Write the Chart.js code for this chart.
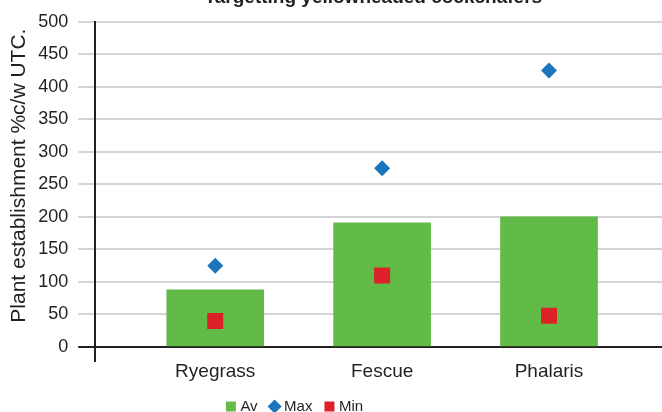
<!DOCTYPE html>
<html>
<head>
<meta charset="utf-8">
<script src="https://cdn.jsdelivr.net/npm/chart.js@4/dist/chart.umd.min.js"></script>
<style>
  html, body { margin: 0; padding: 0; background: #fff; overflow: hidden; }
  #wrap { position: absolute; left: -70px; top: -14px; width: 732px; height: 438px; }
</style>
</head>
<body>
<div id="wrap"><canvas id="chart"></canvas></div>
<script>
// values
const categories = ['Ryegrass', 'Fescue', 'Phalaris'];
const avValues = [88, 191, 200];
const maxValues = [125, 275, 425];
const minValues = [40, 110, 48];
const yTicks = [0, 50, 100, 150, 200, 250, 300, 350, 400, 450, 500];

const axisColor = '#231f20';
const gridColor = '#d4d4d4';

// x runs as a number line so the categories can sit where the original put them
const xMin = 0.281;
const xMax = 3.677;

function points(values) {
  return values.map((v, i) => ({ x: i + 1, y: v }));
}

Chart.defaults.font.family = '"Liberation Sans", Arial, sans-serif';
Chart.defaults.color = axisColor;

new Chart(document.getElementById('chart'), {
  type: 'bar',
  data: {
    datasets: [
      {
        label: 'Av',
        data: points(avValues),
        backgroundColor: '#62bb46',
        borderWidth: 0,
        barThickness: 97,
        pointStyle: 'rect',
        order: 1
      },
      {
        type: 'scatter',
        label: 'Max',
        data: points(maxValues),
        backgroundColor: '#1a75bc',
        borderColor: '#1a75bc',
        borderWidth: 0,
        pointStyle: 'rectRot',
        pointRadius: 8,
        order: 0
      },
      {
        type: 'scatter',
        label: 'Min',
        data: points(minValues),
        backgroundColor: '#dc2128',
        borderColor: '#dc2128',
        borderWidth: 0,
        pointStyle: 'rect',
        pointRadius: 11.3,
        order: 0
      }
    ]
  },
  options: {
    responsive: true,
    maintainAspectRatio: false,
    animation: false,
    layout: { padding: 0, autoPadding: false },
    plugins: {
      title: {
        display: true,
        text: 'Targetting yellowheaded cockchafers  ',
        fullSize: false,
        font: { size: 19, weight: 'bold' },
        color: axisColor,
        padding: { top: 0, bottom: 13 }
      },
      legend: {
        position: 'bottom',
        labels: {
          usePointStyle: true,
          boxWidth: 4,
          boxHeight: 10,
          padding: 15,
          font: { size: 15 },
          color: axisColor,
          sort: (a, b) => a.datasetIndex - b.datasetIndex
        }
      },
      tooltip: { enabled: false }
    },
    scales: {
      x: {
        type: 'linear',
        min: xMin,
        max: xMax,
        offset: false,
        afterBuildTicks: (scale) => {
          scale.ticks = [{ value: xMin }].concat(categories.map((c, i) => ({ value: i + 1 })));
        },
        afterFit: (scale) => {
          scale.height = 37;
          scale.paddingLeft = 0;
          scale.paddingRight = 0;
        },
        ticks: {
          autoSkip: false,
          maxRotation: 0,
          padding: -2,
          font: { size: 19 },
          color: axisColor,
          callback: (v) => categories[v - 1] || ''
        },
        grid: {
          offset: false,
          drawOnChartArea: false,
          drawTicks: true,
          tickLength: 15,
          lineWidth: 2,
          color: (ctx) => ctx.index === 0 ? axisColor : 'rgba(0,0,0,0)'
        },
        border: { display: false }
      },
      y: {
        min: 0,
        max: 500,
        afterBuildTicks: (scale) => {
          scale.ticks = yTicks.map(v => ({ value: v }));
        },
        ticks: {
          padding: 10,
          font: { size: 18 },
          color: axisColor
        },
        grid: {
          lineWidth: 2,
          tickLength: 17,
          color: (ctx) => ctx.tick && ctx.tick.value === 0 ? axisColor : gridColor
        },
        border: { display: true, color: axisColor, width: 2 },
        title: {
          display: true,
          text: '   Plant establishment %c/w UTC.',
          font: { size: 21 },
          color: axisColor,
          padding: { top: 77, bottom: -4 }
        }
      }
    }
  }
});
</script>
</body>
</html>
